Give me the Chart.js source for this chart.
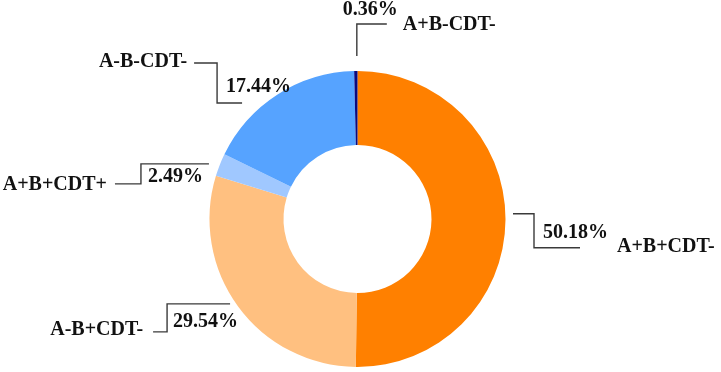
<!DOCTYPE html>
<html lang="en">
<head>
    <meta charset="UTF-8">
    <title>Doughnut</title>
    <script src="https://cdn.jsdelivr.net/npm/chart.js@4.4.1/dist/chart.umd.min.js"></script>
    <style>
        body { margin: 0; background: #fff; }
        #wrap { width: 721px; height: 372px; position: relative; }
    </style>
</head>
<body>
    <div id="wrap"><canvas id="myChart"></canvas></div>

    <script>
        // data
        const groups = ['A+B+CDT-', 'A-B+CDT-', 'A+B+CDT+', 'A-B-CDT-', 'A+B-CDT-']
        const percents = [50.18, 29.54, 2.49, 17.44, 0.36]
        const colors = ['#ff8000', '#ffc080', '#a0c8ff', '#56a3ff', '#0a0a80']

        // leader lines: offsets from the outer edge point at the middle of each slice
        const leaders = [
            { line: [[7.5, -6], [28.5, -6], [28.5, 28], [74.5, 28]], pct: [37.5, 18, 'left'], name: [111.5, 32, 'left'] },
            { line: [[-8, -2.5], [-71, -2.5], [-71, 25.5], [-85, 25.5]], pct: [-65, 20.5, 'left'], name: [-95, 29, 'right'] },
            { line: [[-10.8, -1], [-78.8, -1], [-78.8, 19], [-104.8, 19]], pct: [-71.8, 17.5, 'left'], name: [-112.8, 25.5, 'right'] },
            { line: [[-35.5, 8.5], [-60.5, 8.5], [-60.5, -31.5], [-83.5, -31.5]], pct: [-51.5, -2, 'left'], name: [-90.5, -27, 'right'] },
            { line: [[1, -15], [1, -47], [31, -47]], pct: [-13, -56, 'left'], name: [47, -41, 'left'] }
        ]

        const calloutPlugin = {
            id: 'callouts',
            afterDraw(chart) {
                const ctx = chart.ctx
                const meta = chart.getDatasetMeta(0)
                ctx.save()
                meta.data.forEach((arc, i) => {
                    const p = arc.getProps(['x', 'y', 'startAngle', 'endAngle', 'outerRadius'], true)
                    const a = (p.startAngle + p.endAngle) / 2
                    const ex = p.x + Math.cos(a) * p.outerRadius
                    const ey = p.y + Math.sin(a) * p.outerRadius
                    const L = leaders[i]

                    ctx.strokeStyle = '#3a3a3a'
                    ctx.lineWidth = 1.4
                    ctx.beginPath()
                    L.line.forEach((pt, k) => {
                        if (k === 0) ctx.moveTo(ex + pt[0], ey + pt[1])
                        else ctx.lineTo(ex + pt[0], ey + pt[1])
                    })
                    ctx.stroke()

                    ctx.fillStyle = '#111'
                    ctx.font = 'bold 20px "Liberation Serif", "Times New Roman", serif'
                    ctx.textBaseline = 'alphabetic'
                    ctx.textAlign = L.pct[2]
                    ctx.fillText(percents[i].toFixed(2) + '%', ex + L.pct[0], ey + L.pct[1])
                    ctx.textAlign = L.name[2]
                    ctx.fillText(groups[i], ex + L.name[0], ey + L.name[1])
                })
                ctx.restore()
            }
        }

        const ctx = document.getElementById('myChart').getContext('2d')
        new Chart(ctx, {
            type: 'doughnut',
            data: {
                labels: groups,
                datasets: [{
                    data: percents,
                    backgroundColor: colors,
                    borderWidth: 0
                }]
            },
            options: {
                responsive: true,
                maintainAspectRatio: false,
                animation: false,
                cutout: '50%',
                layout: {
                    padding: { top: 71, bottom: 5, left: 0, right: 6 }
                },
                plugins: {
                    legend: { display: false },
                    tooltip: { enabled: false }
                }
            },
            plugins: [calloutPlugin]
        })
    </script>
</body>
</html>
